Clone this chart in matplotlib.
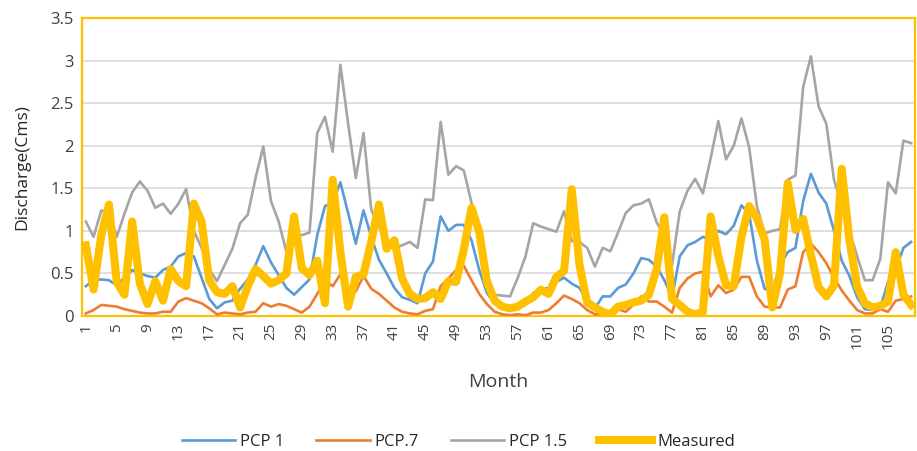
import numpy as np
import matplotlib
matplotlib.use('Agg')
import matplotlib.pyplot as plt

plt.rcParams['font.family'] = ['Open Sans', 'DejaVu Sans']

months = np.arange(1, 109)

pcp_1 = [0.35, 0.42, 0.43, 0.42, 0.36, 0.45, 0.54, 0.5, 0.47, 0.45, 0.54, 0.58, 0.7, 0.74, 0.7, 0.45, 0.2, 0.09,
         0.16, 0.18, 0.32, 0.43, 0.6, 0.82, 0.63, 0.48, 0.33, 0.25, 0.34, 0.43, 0.95, 1.29, 1.33, 1.57, 1.21, 0.85,
         1.24, 0.93, 0.66, 0.5, 0.33, 0.22, 0.19, 0.15, 0.5, 0.64, 1.17, 1.0, 1.07, 1.07, 0.89, 0.54, 0.27, 0.15,
         0.09, 0.08, 0.09, 0.15, 0.27, 0.31, 0.33, 0.4, 0.45, 0.38, 0.33, 0.17, 0.09, 0.23, 0.23, 0.33, 0.37, 0.5,
         0.68, 0.66, 0.58, 0.42, 0.22, 0.7, 0.83, 0.87, 0.93, 0.89, 1.0, 0.96, 1.06, 1.3, 1.2, 0.65, 0.32, 0.29,
         0.6, 0.75, 0.8, 1.35, 1.67, 1.45, 1.32, 1.0, 0.65, 0.47, 0.22, 0.08, 0.07, 0.1, 0.4, 0.55, 0.8, 0.87]

pcp_07 = [0.03, 0.07, 0.13, 0.12, 0.11, 0.08, 0.06, 0.04, 0.03, 0.03, 0.05, 0.05, 0.17, 0.21, 0.18, 0.15, 0.09, 0.02,
          0.04, 0.03, 0.02, 0.04, 0.05, 0.15, 0.11, 0.14, 0.12, 0.08, 0.04, 0.11, 0.26, 0.42, 0.35, 0.49, 0.27, 0.29,
          0.47, 0.32, 0.26, 0.18, 0.1, 0.05, 0.03, 0.02, 0.06, 0.08, 0.35, 0.44, 0.54, 0.59, 0.42, 0.26, 0.14, 0.05,
          0.02, 0.01, 0.02, 0.01, 0.04, 0.04, 0.07, 0.15, 0.24, 0.2, 0.15, 0.07, 0.02, 0.03, 0.05, 0.08, 0.05, 0.13,
          0.23, 0.17, 0.17, 0.11, 0.04, 0.33, 0.44, 0.5, 0.52, 0.23, 0.36, 0.27, 0.31, 0.46, 0.46, 0.23, 0.11, 0.1,
          0.1, 0.31, 0.35, 0.75, 0.85, 0.75, 0.62, 0.45, 0.3, 0.18, 0.07, 0.03, 0.03, 0.08, 0.05, 0.18, 0.2, 0.23]

pcp_15 = [1.11, 0.93, 1.24, 1.22, 0.93, 1.2, 1.45, 1.58, 1.47, 1.27, 1.32, 1.2, 1.32, 1.49, 1.0, 0.8, 0.55, 0.41,
          0.6, 0.79, 1.09, 1.19, 1.62, 1.99, 1.35, 1.11, 0.75, 0.93, 0.95, 0.98, 2.15, 2.34, 1.93, 2.95, 2.26, 1.62,
          2.15, 1.25, 1.05, 0.89, 0.8, 0.83, 0.87, 0.8, 1.37, 1.36, 2.28, 1.66, 1.76, 1.71, 1.33, 0.95, 0.5, 0.25,
          0.24, 0.23, 0.45, 0.7, 1.09, 1.05, 1.02, 0.99, 1.23, 0.88, 0.87, 0.8, 0.58, 0.8, 0.76, 0.98, 1.21, 1.3,
          1.32, 1.37, 1.1, 0.95, 0.6, 1.23, 1.47, 1.61, 1.44, 1.85, 2.29, 1.84, 2.0, 2.32, 1.98, 1.29, 0.97, 1.0,
          1.02, 1.6, 1.65, 2.69, 3.05, 2.46, 2.26, 1.6, 1.3, 1.0, 0.7, 0.42, 0.42, 0.67, 1.57, 1.44, 2.06, 2.03]

measured = [0.83, 0.31, 0.95, 1.31, 0.4, 0.25, 1.11, 0.38, 0.14, 0.41, 0.18, 0.55, 0.41, 0.35, 1.32, 1.11, 0.42, 0.28,
            0.26, 0.35, 0.1, 0.35, 0.55, 0.47, 0.38, 0.42, 0.5, 1.17, 0.56, 0.48, 0.65, 0.15, 1.6, 0.75, 0.11, 0.46,
            0.49, 0.87, 1.31, 0.79, 0.89, 0.44, 0.26, 0.2, 0.21, 0.28, 0.2, 0.41, 0.4, 0.78, 1.27, 0.99, 0.4, 0.18,
            0.11, 0.09, 0.11, 0.17, 0.22, 0.31, 0.26, 0.46, 0.53, 1.49, 0.6, 0.16, 0.1, 0.05, 0.02, 0.11, 0.13, 0.16,
            0.18, 0.25, 0.55, 1.16, 0.2, 0.13, 0.05, 0.02, 0.05, 1.17, 0.7, 0.36, 0.35, 0.93, 1.29, 1.15, 0.9, 0.1,
            0.5, 1.56, 1.01, 1.14, 0.72, 0.34, 0.23, 0.36, 1.73, 0.89, 0.35, 0.15, 0.1, 0.12, 0.17, 0.75, 0.25, 0.13]

tick_months = np.arange(1, 109, 4)
yticks = [0, 0.5, 1, 1.5, 2, 2.5, 3, 3.5]

fig = plt.figure(figsize=(9.17, 4.51), dpi=100)
ax = fig.add_axes([82/917, 1-316/451, (915-82)/917, (316-18)/451])

ax.plot(months, pcp_1, color='#5B9BD5', lw=1.9, label='PCP 1', zorder=3)
ax.plot(months, pcp_07, color='#ED7D31', lw=1.9, label='PCP.7', zorder=3)
ax.plot(months, pcp_15, color='#A5A5A5', lw=1.9, label='PCP 1.5', zorder=3)
ax.plot(months, measured, color='#FFC000', lw=5.8, label='Measured', zorder=4,
        solid_joinstyle='round')

ax.set_xlim(0.5, 108.5)
ax.set_ylim(0, 3.5)
ax.set_yticks(yticks)
ax.set_yticklabels(['0', '0.5', '1', '1.5', '2', '2.5', '3', '3.5'], fontsize=12, color='#404040')
ax.set_xticks(tick_months)
ax.set_xticklabels([str(m) for m in tick_months], rotation=90, fontsize=11, color='#404040')
ax.tick_params(axis='y', length=0, pad=6)
ax.tick_params(axis='x', length=0, pad=5)
ax.grid(axis='y', color='#D9D9D9', lw=1.2, zorder=0)
ax.set_axisbelow(True)
for s in ax.spines.values():
    s.set_color('#FFC000')
    s.set_linewidth(1.6)

ax.set_ylabel('Discharge(Cms)', fontsize=12.5, color='#262626', labelpad=14)
ax.set_xlabel('Month', fontsize=14, color='#404040', labelpad=17)

fig.legend(loc='lower center', bbox_to_anchor=(0.5, -0.03), ncol=4, frameon=False,
           fontsize=12, handlelength=3.2, columnspacing=1.9, handletextpad=0.3,
           labelcolor='#262626')

fig.savefig('out.png', dpi=100)
